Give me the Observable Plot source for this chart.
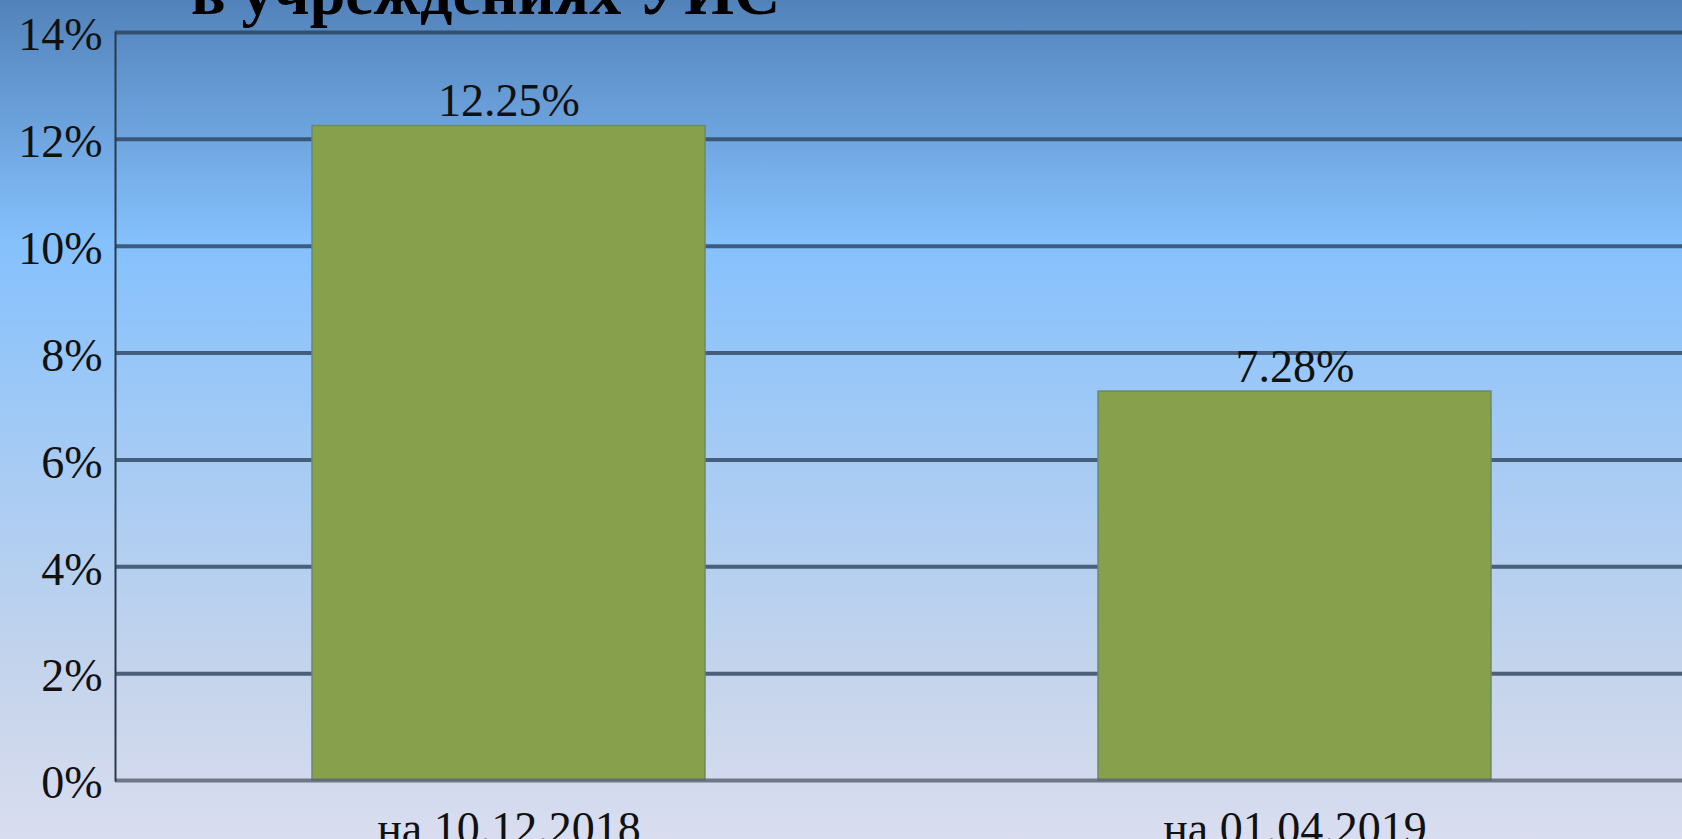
<!DOCTYPE html>
<html>
<head>
<meta charset="utf-8">
<script src="https://cdn.jsdelivr.net/npm/d3@7"></script>
<script src="https://cdn.jsdelivr.net/npm/@observablehq/plot@0.6"></script>
<style>
  html, body { margin: 0; padding: 0; }
  body { width: 1682px; height: 839px; overflow: hidden; }
  #wrap {
    position: relative; width: 1682px; height: 839px; overflow: hidden;
    background: linear-gradient(to bottom, #5282ba 0%, #85c1fd 29%, #a6cbf4 55%, #c4d4ec 80%, #d9ddef 100%);
  }
  #title {
    position: absolute; left: 191px; top: -39px; margin: 0;
    font-family: "Liberation Serif", "Times New Roman", serif;
    font-weight: bold; font-size: 64px; line-height: 1; color: #000; white-space: nowrap;
  }
  #chart { position: absolute; left: 0; top: 0; }
  #chart svg, #chart svg text, #chart svg g { font-family: "Liberation Serif", "Times New Roman", serif !important; }
</style>
</head>
<body>
<div id="wrap">
  <div id="chart"></div>
  <div id="title">в учреждениях УИС</div>
</div>
<script>
const categories = ["на 10.12.2018", "на 01.04.2019"];
const values = [12.25, 7.28];
const yTicks = [0, 2, 4, 6, 8, 10, 12, 14];

const data = categories.map((c, i) => ({cat: c, value: values[i]}));
const serif = "Liberation Serif, Times New Roman, serif";

const chart = Plot.plot({
  width: 1682,
  height: 839,
  marginLeft: 115,
  marginRight: 0,
  marginTop: 32,
  marginBottom: 59,
  style: {
    background: "transparent",
    fontFamily: serif,
    fontSize: "46px",
    color: "#111"
  },
  x: {domain: categories, range: [115, 1687], paddingInner: 0.5, paddingOuter: 0.25, label: null},
  y: {domain: [0, 14], label: null},
  marks: [
    Plot.ruleY(yTicks.filter(d => d > 0), {stroke: "#2a4058", strokeOpacity: 0.78, strokeWidth: 4}),
    Plot.barY(data, {x: "cat", y: "value", fill: "#86a04b", stroke: "#6d8a63", strokeWidth: 1.5}),
    Plot.ruleY([0], {stroke: "#5e6574", strokeOpacity: 0.85, strokeWidth: 4}),
    Plot.frame({anchor: "left", stroke: "#2b3a4a", strokeWidth: 2}),
    Plot.axisY({ticks: yTicks, tickSize: 0, tickPadding: 13, tickFormat: d => d + "%", fontSize: 46, fontFamily: serif, dy: 3, label: null}),
    Plot.axisX({tickSize: 0, tickPadding: 31, fontSize: 46, fontFamily: serif, label: null}),
    Plot.text(data, {x: "cat", y: "value", text: d => d.value.toFixed(2) + "%", lineAnchor: "bottom", dy: -10, fontSize: 46, fontFamily: serif, fill: "#111"})
  ]
});
document.getElementById("chart").appendChild(chart);
</script>
</body>
</html>
